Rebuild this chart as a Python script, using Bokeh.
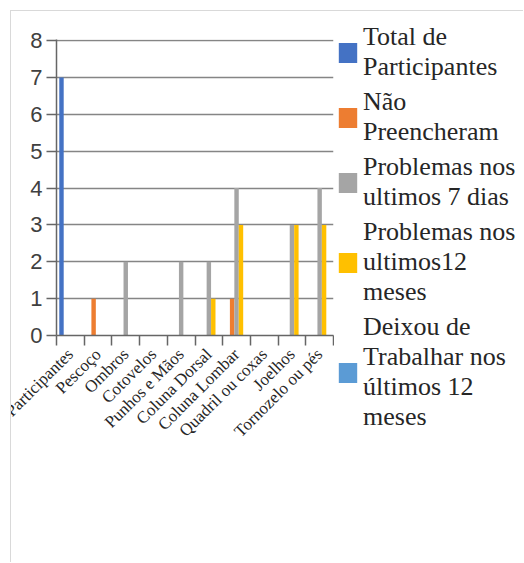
from math import pi
import numpy as np
from bokeh.plotting import figure
from bokeh.layouts import row
from bokeh.models import Range1d, FixedTicker, Legend, LegendItem, ColumnDataSource
from bokeh.embed import file_html
from bokeh.resources import INLINE

categories = ["Total de Participantes", "Pescoço", "Ombros", "Cotovelos", "Punhos e Mãos",
              "Coluna Dorsal", "Coluna Lombar", "Quadril ou coxas", "Joelhos", "Tornozelo ou pés"]
series_names = ["Total de\nParticipantes", "Não\nPreencheram", "Problemas nos\nultimos 7 dias",
                "Problemas nos\nultimos12\nmeses", "Deixou de\nTrabalhar nos\núltimos 12\nmeses"]
total_participantes = [7, 0, 0, 0, 0, 0, 0, 0, 0, 0]
nao_preencheram = [0, 1, 0, 0, 0, 0, 1, 0, 0, 0]
problemas_7_dias = [0, 0, 2, 0, 2, 2, 4, 0, 3, 4]
problemas_12_meses = [0, 0, 0, 0, 0, 1, 3, 0, 3, 3]
deixou_trabalhar = [0, 0, 0, 0, 0, 0, 0, 0, 0, 0]
y_ticks = [0, 1, 2, 3, 4, 5, 6, 7, 8]

series_values = [total_participantes, nao_preencheram, problemas_7_dias,
                 problemas_12_meses, deixou_trabalhar]
colors = ["#4472C4", "#ED7D31", "#A5A5A5", "#FFC000", "#5B9BD5"]

n = len(categories)
centers = np.arange(n) + 0.5
bar_w = 0.16
offsets = [-2 * bar_w, -bar_w, 0, bar_w, 2 * bar_w]

# ---- chart ----
p = figure(frame_width=276, frame_height=296, output_backend="svg", toolbar_location=None,
           x_range=Range1d(0, n), y_range=Range1d(0, 8.03),
           min_border_left=105, min_border_top=28, min_border_right=2, min_border_bottom=224)
p.frame_align = False
p.styles = {"margin-left": "-60px"}
p.outline_line_color = None
p.background_fill_color = "white"
p.border_fill_color = "white"

sources = []
for vals, off, c in zip(series_values, offsets, colors):
    src = ColumnDataSource(dict(x=centers + off, top=vals))
    sources.append(src)
    p.vbar(x="x", top="top", width=bar_w, source=src, fill_color=c, line_color=None)

p.yaxis.ticker = FixedTicker(ticks=y_ticks)
p.yaxis.major_label_text_font = "Liberation Sans"
p.yaxis.major_label_text_font_size = "22px"
p.yaxis.major_label_text_color = "#404040"
p.yaxis.axis_line_color = "#666666"
p.yaxis.axis_line_width = 1.5
p.yaxis.major_tick_line_color = "#666666"
p.yaxis.major_tick_line_width = 1.5
p.yaxis.major_tick_out = 10
p.yaxis.major_tick_in = 0
p.yaxis.minor_tick_line_color = None
p.yaxis.major_label_standoff = 4

p.ygrid.ticker = FixedTicker(ticks=y_ticks)
p.ygrid.grid_line_color = "#858585"
p.ygrid.grid_line_width = 1.6
p.xgrid.grid_line_color = None

p.xaxis.ticker = FixedTicker(ticks=list(centers), minor_ticks=list(range(n + 1)))
p.xaxis.major_label_overrides = {float(cx): cat for cx, cat in zip(centers, categories)}
p.xaxis.major_label_orientation = pi / 4
p.xaxis.major_label_text_font = "Liberation Serif"
p.xaxis.major_label_text_font_size = "17px"
p.xaxis.major_label_text_color = "#262626"
p.xaxis.major_tick_line_color = None
p.xaxis.major_tick_out = 10
p.xaxis.major_label_standoff = 6
p.xaxis.minor_tick_line_color = "#666666"
p.xaxis.minor_tick_line_width = 1.5
p.xaxis.minor_tick_out = 10
p.xaxis.minor_tick_in = 0
p.xaxis.axis_line_color = "#666666"
p.xaxis.axis_line_width = 1.5

# ---- legend panel (same series sources; its view range shows no bars) ----
lg = figure(width=188, height=548, output_backend="svg", toolbar_location=None,
            x_axis_type=None, y_axis_type=None, min_border=0,
            x_range=Range1d(0, n), y_range=Range1d(100, 101))
lg.frame_align = False
lg.outline_line_color = None
lg.background_fill_color = "white"
lg.border_fill_color = "white"

items = []
for name, src, c in zip(series_names, sources, colors):
    r = lg.vbar(x="x", top="top", width=bar_w, source=src, fill_color=c, line_color=None)
    items.append(LegendItem(label=name, renderers=[r]))

legend = Legend(items=items, location=(1, 127))
legend.label_text_font = "Liberation Serif"
legend.label_text_font_size = "26px"
legend.label_text_color = "#262626"
legend.glyph_width = 23
legend.glyph_height = 25
legend.label_standoff = 4
legend.spacing = 5
legend.padding = 0
legend.margin = 0
legend.border_line_color = None
legend.background_fill_alpha = 0
lg.add_layout(legend, "center")

page = row(p, lg, width=513, height=552,
           styles={"margin-left": "10px", "margin-top": "10px", "overflow": "hidden",
                   "border-left": "1px solid #d9d9d9", "border-top": "1px solid #d9d9d9"})

open("out.html", "w").write(file_html(page, INLINE))
